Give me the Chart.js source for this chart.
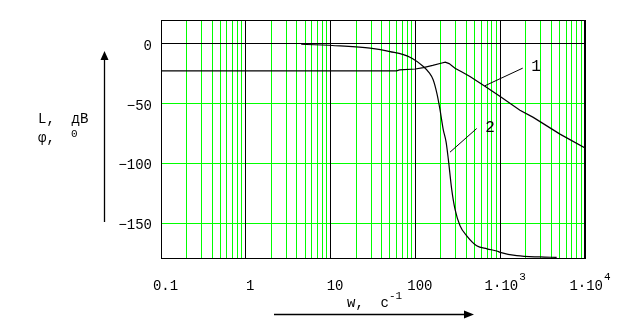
<!DOCTYPE html>
<html><head><meta charset="utf-8">
<script src="https://cdn.jsdelivr.net/npm/chart.js@4"></script>
<style>html,body{margin:0;padding:0;background:#fff;overflow:hidden}#wrap{width:626px;height:322px;position:relative}canvas{display:block}</style>
</head><body><div id="wrap"><canvas id="c" width="626" height="322"></canvas></div>
<script>
// ---- data ----
const wL  = [0.1, 10, 60, 65, 100, 124, 160, 200, 225, 250, 293, 350, 440, 681, 1000, 1710, 2455, 5070, 10000];
const L   = [-22.5, -22.5, -22.5, -21.8, -21, -19.8, -18, -16.2, -15.3, -16.5, -20.3, -23.3, -27.2, -36, -44, -55.5, -61.5, -75.5, -87];
const wPhi = [4.5, 12.9, 29.2, 50.2, 86.3, 124, 145, 162, 180, 195, 213, 230, 244, 268, 293, 336, 403, 528, 700, 910, 1000, 1567, 2945, 4630];
const phi  = [-0.3, -1.7, -3.6, -6.4, -11.1, -18.9, -24, -30, -42, -55, -71.7, -82, -96, -121.7, -138.3, -152.2, -160.6, -168.9, -171.5, -173.3, -174.4, -177.2, -178.3, -178.6];

const xTickValues = [0.1, 1, 10, 100, 1000, 10000];
const xTickLabels = ['0.1', '1', '10', '100', '1·10', '1·10'];
const xTickExps   = ['', '', '', '', '3', '4'];
const yTickValues = [0, -50, -100, -150];
const yTickLabels = ['0', '−50', '−100', '−150'];

// curve labels and leader lines, in data coordinates [w, value]
const curveNames = ['1', '2'];
const nameAt     = [[2642, -19.5], [759, -70.5]];
const leaderFrom = [[662, -35], [256, -90.6]];
const leaderTo   = [[1841, -20.3], [528, -70.8]];

// grid values: k * 10^n
const xGridValues = [];
for (let e = -1; e <= 4; e++) for (let k = 1; k <= 9; k++) { const v = k * Math.pow(10, e); if (v <= 10000 + 1e-9) xGridValues.push(+v.toPrecision(3)); }

const GREEN = '#00ff00';
const MONO = '"Liberation Mono", "DejaVu Sans Mono", monospace';
const isDecade = v => Math.abs(Math.log10(v) - Math.round(Math.log10(v))) < 1e-6;

const gridPlugin = {
  id: 'gridPlugin',
  beforeDatasetsDraw(chart) {
    const ctx = chart.ctx, a = chart.chartArea, xs = chart.scales.x, ys = chart.scales.y;
    const T = Math.round(a.top), B = Math.round(a.bottom), Lf = Math.round(a.left), R = Math.round(a.right);
    ctx.save();
    [false, true].forEach(bl => {
      ctx.fillStyle = bl ? '#000' : GREEN;
      xGridValues.filter(v => isDecade(v) === bl).forEach(v => {
        ctx.fillRect(Math.floor(xs.getPixelForValue(v)), T, 1, B - T);
      });
      yTickValues.filter(v => (v === 0) === bl).forEach(v => {
        ctx.fillRect(Lf, Math.floor(ys.getPixelForValue(v)), R - Lf, 1);
      });
    });
    ctx.restore();
  }
};

const decor = {
  id: 'decor',
  afterDraw(chart) {
    const ctx = chart.ctx, a = chart.chartArea, xs = chart.scales.x, ys = chart.scales.y;
    const T = Math.round(a.top), B = Math.round(a.bottom), Lf = Math.round(a.left), R = Math.round(a.right);
    ctx.save();
    ctx.fillStyle = '#000';
    // frame
    ctx.fillRect(Lf, T, R - Lf, 1);
    ctx.fillRect(Lf, B - 1, R - Lf, 1);
    ctx.fillRect(Lf, T, 1, B - T);
    ctx.fillRect(R - 1, T, 2, B - T);

    // y tick labels
    ctx.font = '14px ' + MONO; ctx.textAlign = 'right'; ctx.textBaseline = 'alphabetic';
    yTickValues.forEach((v, i) => ctx.fillText(yTickLabels[i], 152, ys.getPixelForValue(v) + 6));
    // x tick labels
    xTickValues.forEach((v, i) => {
      const px = xs.getPixelForValue(v);
      ctx.font = '14px ' + MONO;
      const mw = ctx.measureText(xTickLabels[i]).width;
      ctx.font = '11px ' + MONO;
      const ew = xTickExps[i] ? ctx.measureText(xTickExps[i]).width : 0;
      const x0 = px + 4.5 - (mw + ew) / 2;
      ctx.textAlign = 'left';
      ctx.font = '14px ' + MONO; ctx.fillText(xTickLabels[i], x0, 290);
      if (ew) { ctx.font = '11px ' + MONO; ctx.fillText(xTickExps[i], x0 + mw + 1, 280); }
    });
    // y axis title
    ctx.textAlign = 'left';
    ctx.font = '14px ' + MONO;
    ctx.fillText('L,  дВ', 38, 123);
    ctx.fillText('φ,', 38, 142);
    ctx.font = '11px ' + MONO;
    ctx.fillText('0', 71, 137);
    // x axis title
    ctx.font = '14px ' + MONO;
    ctx.fillText('w,  c', 347, 307);
    const cw = ctx.measureText('w,  c').width;
    ctx.font = '11px ' + MONO;
    ctx.fillText('-1', 347 + cw, 299);

    // arrows
    ctx.strokeStyle = '#000';
    ctx.lineWidth = 1.3;
    ctx.beginPath(); ctx.moveTo(104.5, 222); ctx.lineTo(104.5, 58); ctx.stroke();
    ctx.beginPath(); ctx.moveTo(104.5, 51); ctx.lineTo(100.5, 60); ctx.lineTo(108.5, 60); ctx.closePath(); ctx.fill();
    ctx.beginPath(); ctx.moveTo(274, 314.5); ctx.lineTo(466, 314.5); ctx.stroke();
    ctx.beginPath(); ctx.moveTo(474, 314.5); ctx.lineTo(464, 310.5); ctx.lineTo(464, 318.5); ctx.closePath(); ctx.fill();

    // curve labels and leaders
    ctx.lineWidth = 1;
    ctx.font = '16px ' + MONO; ctx.textAlign = 'center'; ctx.textBaseline = 'middle';
    curveNames.forEach((n, i) => {
      ctx.beginPath();
      ctx.moveTo(xs.getPixelForValue(leaderFrom[i][0]), ys.getPixelForValue(leaderFrom[i][1]));
      ctx.lineTo(xs.getPixelForValue(leaderTo[i][0]), ys.getPixelForValue(leaderTo[i][1]));
      ctx.stroke();
      ctx.fillText(n, xs.getPixelForValue(nameAt[i][0]), ys.getPixelForValue(nameAt[i][1]));
    });
    ctx.restore();
  }
};

new Chart(document.getElementById('c'), {
  type: 'line',
  data: {
    datasets: [
      { data: wL.map((w, i) => ({ x: w, y: L[i] })), borderColor: '#000', borderWidth: 1.2, pointRadius: 0, tension: 0 },
      { data: wPhi.map((w, i) => ({ x: w, y: phi[i] })), borderColor: '#000', borderWidth: 1.2, pointRadius: 0, tension: 0.3, cubicInterpolationMode: 'monotone' }
    ]
  },
  options: {
    responsive: false, animation: false, devicePixelRatio: 1,
    layout: { padding: { left: 161, right: 41, top: 20, bottom: 63 } },
    plugins: { legend: { display: false }, tooltip: { enabled: false } },
    scales: {
      x: {
        type: 'logarithmic', min: 0.1, max: 10000,
        afterFit: s => { s.height = 0; },
        ticks: { display: false },
        border: { display: false },
        grid: { display: false }
      },
      y: {
        type: 'linear', min: -180, max: 20,
        afterFit: s => { s.width = 0; },
        ticks: { display: false },
        border: { display: false },
        grid: { display: false }
      }
    }
  },
  plugins: [gridPlugin, decor]
});
</script></body></html>
